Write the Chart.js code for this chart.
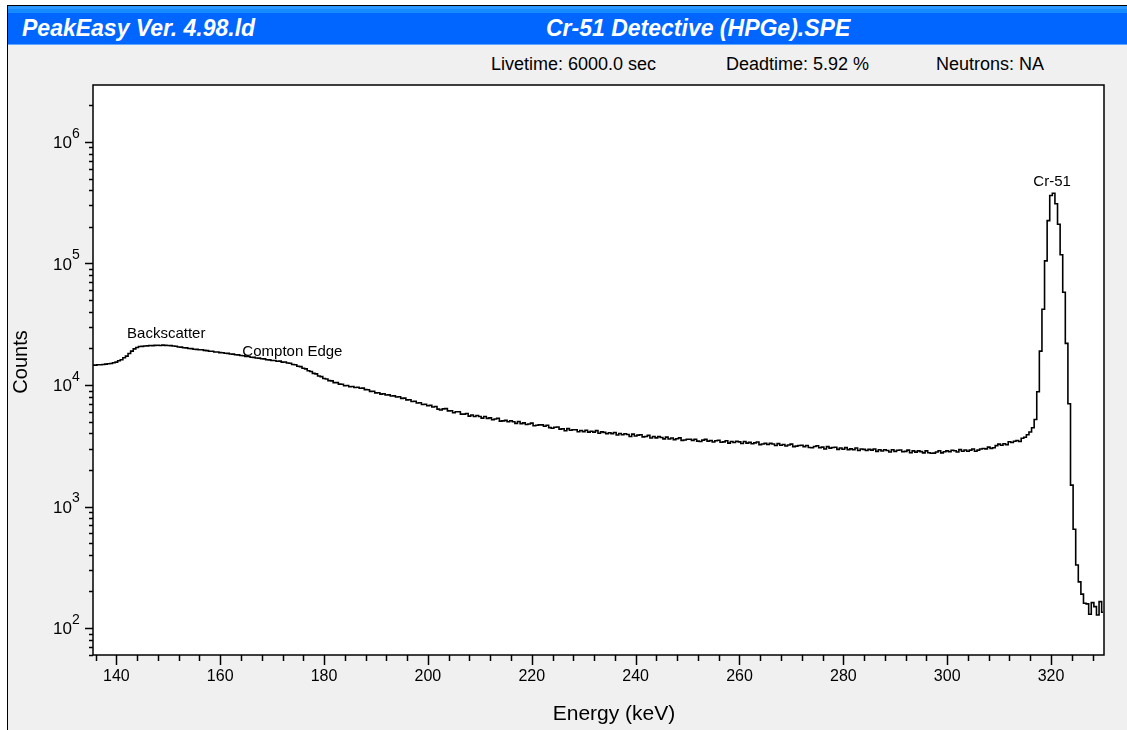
<!DOCTYPE html>
<html>
<head>
<meta charset="utf-8">
<title>Cr-51 Detective (HPGe).SPE</title>
<script src="https://cdn.jsdelivr.net/npm/chart.js@4.4.1/dist/chart.umd.min.js"></script>
<style>
  html, body { margin: 0; padding: 0; background: #fff; }
  body { width: 1127px; height: 730px; overflow: hidden; position: relative; font-family: "Liberation Sans", Arial, sans-serif; }
  #win { position: absolute; left: 7px; top: 5px; right: 0; bottom: 0; border-left: 1px solid #000; border-top: 1px solid #000; background: #f0f0f0; }
  #titlebar {
    position: absolute; left: 8px; top: 6px; right: 0; height: 39px;
    background: linear-gradient(to bottom, #2b97ff 0px, #2b97ff 3px, #168aff 3px, #168aff 7px, #0066ff 7px, #0066ff 38px, #5ea8ff 38px, #5ea8ff 39px);
  }
  .ttl { position: absolute; color: #fff; font: italic bold 23px "Liberation Sans", Arial, sans-serif; line-height: 23px; white-space: nowrap; }
  .info { position: absolute; top: 55px; color: #000; font: 18px "Liberation Sans", Arial, sans-serif; line-height: 18px; white-space: nowrap; }
  #spectrum { position: absolute; left: 0; top: 0; }
</style>
</head>
<body>
<div id="win"></div>
<div id="titlebar"></div>
<div class="ttl" style="left:22px; top:17px;">PeakEasy Ver. 4.98.ld</div>
<div class="ttl" style="left:546px; top:17px;">Cr-51 Detective (HPGe).SPE</div>
<div class="info" style="left:491px;">Livetime: 6000.0 sec</div>
<div class="info" style="left:726px;">Deadtime: 5.92 %</div>
<div class="info" style="left:936px;">Neutrons: NA</div>
<canvas id="spectrum" width="1127" height="730"></canvas>
<script>
// channel calibration: first channel centre and width in keV
const firstChannelKeV = 135.5;
const keVPerChannel = 0.5;

// counts per channel, 135.5 keV .. 330.0 keV (10 channels per row)
const counts = [
  14620, 14560, 14680, 14650, 14760, 14840, 14950, 15020, 15240, 15420,
  15820, 16150, 16750, 17280, 18150, 18980, 19820, 20350, 20720, 20780,
  20950, 20980, 21100, 21060, 21180, 21220, 21150, 21280, 21190, 21120,
  21080, 20920, 20850, 20560, 20480, 20250, 20180, 19960, 19920, 19700,
  19640, 19480, 19490, 19260, 19180, 18960, 18920, 18700, 18680, 18460,
  18420, 18250, 18190, 18010, 17930, 17720, 17680, 17460, 17390, 17160,
  17130, 16900, 16880, 16650, 16640, 16460, 16390, 16150, 16090, 15910,
  15880, 15660, 15700, 15420, 15450, 15150, 15080, 14760, 14650, 14270,
  14150, 13710, 13560, 13100, 12920, 12460, 12330, 11850, 11720, 11310,
  11200, 10860, 10800, 10460, 10450, 10160, 10130, 9860, 9900, 9660,
  9720, 9540, 9580, 9410, 9420, 9160, 9130, 8860, 8870, 8610,
  8640, 8410, 8480, 8260, 8290, 8110, 8140, 7960, 7990, 7760,
  7790, 7540, 7560, 7310, 7350, 7110, 7150, 6910, 6950, 6740,
  6800, 6590, 6650, 6330, 6230, 6360, 6390, 6120, 6130, 5910,
  6030, 6020, 5760, 5760, 5830, 5540, 5670, 5510, 5610, 5510,
  5340, 5510, 5310, 5360, 5180, 5250, 5320, 5040, 5070, 5110,
  4980, 5080, 4980, 4830, 5000, 4810, 4880, 4730, 4780, 4850,
  4620, 4660, 4700, 4700, 4580, 4660, 4460, 4400, 4490, 4510,
  4330, 4360, 4200, 4370, 4240, 4280, 4280, 4120, 4220, 4130,
  4240, 4090, 4160, 4090, 4210, 4010, 4110, 4070, 3970, 4050,
  3980, 4060, 3880, 3990, 3890, 3970, 3910, 3770, 3940, 3800,
  3870, 3900, 3740, 3770, 3850, 3660, 3770, 3670, 3760, 3700,
  3600, 3720, 3590, 3660, 3550, 3610, 3670, 3500, 3530, 3580,
  3580, 3500, 3580, 3450, 3430, 3520, 3570, 3450, 3490, 3390,
  3480, 3510, 3380, 3400, 3480, 3320, 3430, 3360, 3440, 3400,
  3300, 3430, 3320, 3370, 3280, 3340, 3390, 3230, 3270, 3310,
  3240, 3310, 3270, 3180, 3290, 3190, 3240, 3150, 3210, 3260,
  3110, 3140, 3180, 3190, 3110, 3180, 3060, 3040, 3120, 3160,
  3040, 3080, 2970, 3110, 3020, 3060, 3070, 2950, 3030, 2960,
  3050, 2940, 2980, 2930, 3030, 2890, 2970, 2950, 2890, 2950,
  2910, 2970, 2840, 2930, 2860, 2930, 2890, 2810, 2930, 2840,
  2900, 2920, 2820, 2840, 2910, 2770, 2870, 2800, 2870, 2830,
  2760, 2870, 2770, 2740, 2750, 2810, 2880, 2760, 2820, 2870,
  2820, 2900, 2880, 2810, 2940, 2850, 2920, 2850, 2910, 2970,
  2850, 2910, 2970, 3000, 2980, 3080, 3010, 3040, 3170, 3260,
  3190, 3280, 3220, 3410, 3360, 3440, 3490, 3430, 3640, 3710,
  3900, 4100, 4450, 5200, 8800, 19000, 42000, 105000, 225000, 362000,
  378000, 310000, 210000, 118000, 58000, 22000, 7000, 1500, 650, 330,
  240, 190, 160, 158, 130, 162, 150, 128, 165, 135
];

// axis ranges and labelled ticks
const energyMin = 135.5;
const energyMax = 330.2;
const countsMin = 60;
const countsMax = 2.94e6;
const energyTickLabels = [140, 160, 180, 200, 220, 240, 260, 280, 300, 320];
const countDecades = [2, 3, 4, 5, 6];

// peak / feature annotations
const featureNames = ['Backscatter', 'Compton Edge', 'Cr-51'];
const featureKeV = [149.6, 173.9, 320.2];
const featureCounts = [26300, 18690, 469000];

const points = counts.map((c, i) => ({ x: firstChannelKeV + i * keVPerChannel, y: c }));

const FONT = '"Liberation Sans", Arial, sans-serif';

const spectrumFrame = {
  id: 'spectrumFrame',
  beforeDraw(chart) {
    const { ctx, chartArea: a } = chart;
    ctx.save();
    ctx.fillStyle = '#fff';
    ctx.fillRect(a.left, a.top, a.right - a.left, a.bottom - a.top);
    ctx.restore();
  },
  afterDraw(chart) {
    const { ctx, chartArea: a } = chart;
    const xs = chart.scales.x, ys = chart.scales.y;
    ctx.save();
    ctx.strokeStyle = '#000';
    ctx.lineWidth = 1.5;
    ctx.strokeRect(a.left, a.top, a.right - a.left, a.bottom - a.top);

    // energy ticks every 4 keV, longer ones at the labels
    ctx.beginPath();
    for (let e = 136; e <= energyMax; e += 4) {
      const px = Math.round(xs.getPixelForValue(e)) + 0.5;
      const len = energyTickLabels.includes(e) ? 10 : 6;
      ctx.moveTo(px, a.bottom);
      ctx.lineTo(px, a.bottom + len);
    }
    // log ticks on the counts axis
    for (let d = 1; d <= 6; d++) {
      for (let m = 1; m <= 9; m++) {
        const v = m * Math.pow(10, d);
        if (v < countsMin || v > countsMax) continue;
        const py = Math.round(ys.getPixelForValue(v)) + 0.5;
        const len = m === 1 ? 8 : 4;
        ctx.moveTo(a.left, py);
        ctx.lineTo(a.left - len, py);
      }
    }
    ctx.stroke();

    // decade labels with raised exponent
    ctx.fillStyle = '#000';
    ctx.textBaseline = 'middle';
    countDecades.forEach(d => {
      const py = ys.getPixelForValue(Math.pow(10, d));
      ctx.font = '17px ' + FONT;
      ctx.textAlign = 'right';
      ctx.fillText('10', 72, py + 1.5);
      ctx.font = '14px ' + FONT;
      ctx.textAlign = 'left';
      ctx.fillText(String(d), 72, py - 8);
    });

    // axis titles
    ctx.font = '21px ' + FONT;
    ctx.textAlign = 'center';
    ctx.fillText('Energy (keV)', 614, 714);
    ctx.save();
    ctx.translate(21, 362);
    ctx.rotate(-Math.PI / 2);
    ctx.font = '20px ' + FONT;
    ctx.fillText('Counts', 0, 0);
    ctx.restore();

    // feature labels
    ctx.font = '15px ' + FONT;
    ctx.textAlign = 'center';
    featureNames.forEach((name, i) => {
      ctx.fillText(name, xs.getPixelForValue(featureKeV[i]), ys.getPixelForValue(featureCounts[i]));
    });
    ctx.restore();
  }
};

new Chart(document.getElementById('spectrum'), {
  type: 'line',
  data: {
    datasets: [{
      data: points,
      borderColor: '#000',
      borderWidth: 1.6,
      pointRadius: 0,
      stepped: 'middle',
      fill: false,
    }],
  },
  options: {
    responsive: false,
    animation: false,
    events: [],
    layout: { padding: { top: 85, right: 23, left: 0, bottom: 0 } },
    plugins: { legend: { display: false }, tooltip: { enabled: false } },
    scales: {
      x: {
        type: 'linear',
        min: energyMin,
        max: energyMax,
        afterBuildTicks: (s) => { s.ticks = energyTickLabels.map(v => ({ value: v })); },
        afterFit: (s) => { s.height = 75; },
        grid: { display: false, drawTicks: false },
        border: { display: false },
        ticks: { color: '#000', padding: 12, maxRotation: 0, autoSkip: false, font: { family: FONT, size: 16 } },
      },
      y: {
        type: 'logarithmic',
        min: countsMin,
        max: countsMax,
        afterFit: (s) => { s.width = 93; },
        grid: { display: false, drawTicks: false },
        border: { display: false },
        ticks: { display: false },
      },
    },
  },
  plugins: [spectrumFrame],
});
</script>
</body>
</html>
